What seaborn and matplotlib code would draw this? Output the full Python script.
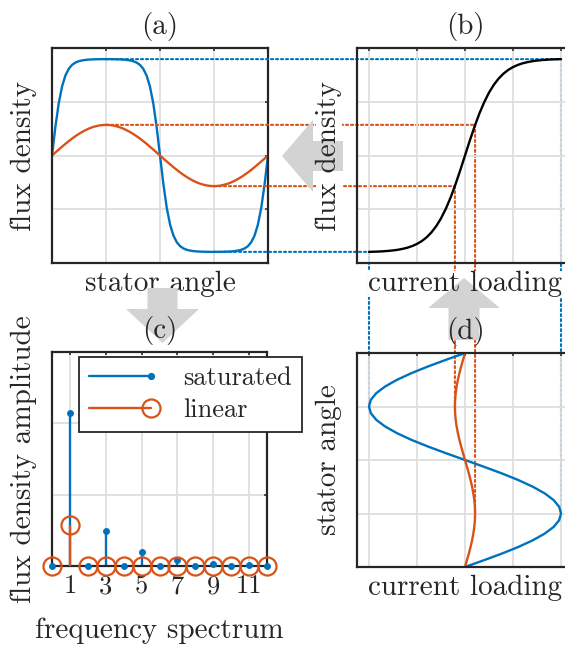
import numpy as np
import matplotlib
matplotlib.use("Agg")
import matplotlib.pyplot as plt
import seaborn as sns
from matplotlib.patches import ConnectionPatch, Polygon, Rectangle
from matplotlib.lines import Line2D
from matplotlib.legend_handler import HandlerLine2D

# ---------------- data ----------------
# (a) flux density over one pole pair, stator angle in degrees
stator_angle_deg = np.arange(0, 360.01, 5.625)          # 65 samples
flux_saturated = [0.0, 0.531, 0.973, 1.289, 1.493, 1.616, 1.689, 1.731, 1.756,
                  1.770, 1.779, 1.785, 1.788, 1.790, 1.792, 1.793, 1.793,
                  1.793, 1.792, 1.790, 1.788, 1.785, 1.779, 1.770, 1.756,
                  1.731, 1.689, 1.616, 1.493, 1.289, 0.973, 0.531, 0.0,
                  -0.531, -0.973, -1.289, -1.493, -1.616, -1.689, -1.731, -1.756,
                  -1.770, -1.779, -1.785, -1.788, -1.790, -1.792, -1.793, -1.793,
                  -1.793, -1.792, -1.790, -1.788, -1.785, -1.779, -1.770, -1.756,
                  -1.731, -1.689, -1.616, -1.493, -1.289, -0.973, -0.531, 0.0]
flux_linear = [0.0, 0.056, 0.111, 0.165, 0.218, 0.269, 0.317, 0.362, 0.403,
               0.441, 0.474, 0.503, 0.527, 0.545, 0.559, 0.567, 0.570,
               0.567, 0.559, 0.545, 0.527, 0.503, 0.474, 0.441, 0.403,
               0.362, 0.317, 0.269, 0.218, 0.165, 0.111, 0.056, 0.0,
               -0.056, -0.111, -0.165, -0.218, -0.269, -0.317, -0.362, -0.403,
               -0.441, -0.474, -0.503, -0.527, -0.545, -0.559, -0.567, -0.570,
               -0.567, -0.559, -0.545, -0.527, -0.503, -0.474, -0.441, -0.403,
               -0.362, -0.317, -0.269, -0.218, -0.165, -0.111, -0.056, 0.0]

# (b) magnetisation curve: flux density vs current loading
current_loading_b = np.arange(-1.0, 1.0001, 0.05)         # 41 samples
flux_curve_b = [-1.793, -1.790, -1.787, -1.782, -1.775, -1.766, -1.754, -1.737,
                -1.715, -1.685, -1.645, -1.592, -1.522, -1.431, -1.315, -1.170,
                -0.992, -0.782, -0.541, -0.277, 0.0,
                0.277, 0.541, 0.782, 0.992, 1.170, 1.315, 1.431, 1.522,
                1.592, 1.645, 1.685, 1.715, 1.737, 1.754, 1.766, 1.775,
                1.782, 1.787, 1.790, 1.793]

# (d) current loading over stator angle
stator_angle_d = np.arange(0, 360.01, 11.25)              # 33 samples
current_saturated = [0.0, 0.195, 0.383, 0.556, 0.707, 0.831, 0.924, 0.981, 1.0,
                     0.981, 0.924, 0.831, 0.707, 0.556, 0.383, 0.195, 0.0,
                     -0.195, -0.383, -0.556, -0.707, -0.831, -0.924, -0.981, -1.0,
                     -0.981, -0.924, -0.831, -0.707, -0.556, -0.383, -0.195, 0.0]
current_linear = [0.0, 0.020, 0.040, 0.058, 0.074, 0.087, 0.097, 0.103, 0.105,
                  0.103, 0.097, 0.087, 0.074, 0.058, 0.040, 0.020, 0.0,
                  -0.020, -0.040, -0.058, -0.074, -0.087, -0.097, -0.103, -0.105,
                  -0.103, -0.097, -0.087, -0.074, -0.058, -0.040, -0.020, 0.0]

# (c) harmonic spectrum
harmonic = list(range(13))
amp_saturated = [0, 2.14, 0, 0.49, 0, 0.19, 0, 0.08, 0, 0.035, 0, 0.015, 0]
amp_linear = [0, 0.57, 0, 0, 0, 0, 0, 0, 0, 0, 0, 0, 0]
freq_ticks = [1, 3, 5, 7, 9, 11]

legend_labels = ["saturated", "linear"]
panel_titles = ["(a)", "(b)", "(c)", "(d)"]
label_flux = "flux density"
label_angle = "stator angle"
label_current = "current loading"
label_amp = "flux density amplitude"
label_freq = "frequency spectrum"

# ---------------- style ----------------
BLUE = "#0072BD"
ORANGE = "#D95319"
AXC = "#262626"
GRID = "#dedede"
ARROW = "#d3d3d3"
LABEL_FS = 21
TICK_FS = 19
LEG_FS = 19
LW = 1.7
DOT = (0, (1, 1.4))

sns.set_style("white")
plt.rcParams["font.family"] = ["cmr10", "DejaVu Serif"]
plt.rcParams["mathtext.fontset"] = "cm"
plt.rcParams["axes.formatter.use_mathtext"] = True
plt.rcParams["axes.unicode_minus"] = False

W, H = 565, 648
fig = plt.figure(figsize=(W / 100, H / 100), dpi=100)
fig.patch.set_facecolor("white")


def px_rect(l, t, r, b):
    return [l / W, 1 - b / H, (r - l) / W, (b - t) / H]


ax_a = fig.add_axes(px_rect(52, 48, 268, 263), zorder=0)
ax_b = fig.add_axes(px_rect(357, 48, 573, 263), zorder=2)
ax_c = fig.add_axes(px_rect(52, 352, 267, 566), zorder=2)
ax_d = fig.add_axes(px_rect(357, 353, 573, 567), zorder=2)

for ax in (ax_b, ax_c, ax_d):
    ax.set_facecolor("none")

# ---------------- (a) ----------------
sns.lineplot(x=stator_angle_deg, y=flux_saturated, ax=ax_a, color=BLUE, lw=LW,
             sort=False, estimator=None, legend=False)
sns.lineplot(x=stator_angle_deg, y=flux_linear, ax=ax_a, color=ORANGE, lw=LW,
             sort=False, estimator=None, legend=False)
ax_a.set_xlim(0, 360)
ax_a.set_ylim(-2, 2)
ax_a.set_xticks([0, 90, 180, 270, 360])
ax_a.set_yticks([-2, -1, 0, 1, 2])

# ---------------- (b) ----------------
sns.lineplot(x=current_loading_b, y=flux_curve_b, ax=ax_b, color="black", lw=LW,
             sort=False, estimator=None, legend=False)
ax_b.set_xlim(-1.125, 1.125)
ax_b.set_ylim(-2, 2)
ax_b.set_xticks([-1, -0.5, 0, 0.5, 1])
ax_b.set_yticks([-2, -1, 0, 1, 2])

# ---------------- (d) ----------------
sns.lineplot(x=current_saturated, y=stator_angle_d, ax=ax_d, color=BLUE, lw=LW,
             sort=False, estimator=None, legend=False)
sns.lineplot(x=current_linear, y=stator_angle_d, ax=ax_d, color=ORANGE, lw=LW,
             sort=False, estimator=None, legend=False)
ax_d.set_xlim(-1.125, 1.125)
ax_d.set_ylim(0, 360)
ax_d.set_xticks([-1, -0.5, 0, 0.5, 1])
ax_d.set_yticks([0, 90, 180, 270, 360])

# ---------------- (c) ----------------
ax_c.vlines(harmonic, 0, amp_saturated, colors=BLUE, lw=LW, zorder=2)
sns.lineplot(x=harmonic, y=amp_saturated, ax=ax_c, color=BLUE, marker="o", ms=4.2,
             mec=BLUE, mfc=BLUE, linestyle="none", sort=False, estimator=None,
             legend=False, clip_on=False, zorder=3)
ax_c.vlines(harmonic, 0, amp_linear, colors=ORANGE, lw=LW, zorder=3.1)
sns.lineplot(x=harmonic, y=amp_linear, ax=ax_c, color=ORANGE, marker="o", ms=13,
             mec=ORANGE, mfc="none", mew=1.6, linestyle="none", sort=False,
             estimator=None, legend=False, clip_on=False, zorder=3.2)
ax_c.set_xlim(0, 12)
ax_c.set_ylim(0, 3)
ax_c.set_xticks(freq_ticks)
ax_c.set_xticklabels([str(t) for t in freq_ticks])
ax_c.set_yticks([0, 1, 2, 3])


def style(ax, show_x=False):
    for s in ax.spines.values():
        s.set_color(AXC)
        s.set_linewidth(1.6)
        s.set_zorder(2.6)
    ax.tick_params(direction="in", length=2.5, width=1.1, color=AXC,
                   top=True, right=True, labelsize=TICK_FS, labelcolor=AXC,
                   labelbottom=show_x, labelleft=False, pad=6.3)
    ax.grid(True, color=GRID, lw=1.3)
    ax.set_axisbelow(True)


style(ax_a)
style(ax_b)
style(ax_c, show_x=True)
style(ax_d)


class EndMarkerHandler(HandlerLine2D):
    def create_artists(self, legend, orig_handle, xdescent, ydescent, width,
                       height, fontsize, trans):
        arts = super().create_artists(legend, orig_handle, xdescent, ydescent,
                                      width, height, fontsize, trans)
        for a in arts:
            if isinstance(a, Line2D) and len(a.get_xdata()) == 3:
                a.set_markevery([2])
        return arts


h_sat = Line2D([], [], color=BLUE, lw=LW, marker="o", ms=4.2, mfc=BLUE, mec=BLUE)
h_lin = Line2D([], [], color=ORANGE, lw=LW, marker="o", ms=13, mfc="none",
               mec=ORANGE, mew=1.6)
leg = ax_c.legend([h_sat, h_lin], legend_labels, loc="upper left",
                  bbox_to_anchor=(79 / W, 1 - 357 / H), bbox_transform=fig.transFigure,
                  borderaxespad=0, frameon=True, fancybox=False, edgecolor=AXC,
                  framealpha=1, fontsize=LEG_FS, handlelength=2.35,
                  handletextpad=1.25, labelspacing=0.32, borderpad=0.36,
                  numpoints=1, labelcolor=AXC,
                  handler_map={Line2D: EndMarkerHandler()})
leg.get_frame().set_linewidth(1.3)
leg.set_zorder(10)

# ---------------- labels & titles ----------------
for ax, t in zip((ax_a, ax_b, ax_c, ax_d), panel_titles):
    ax.set_title(t, fontsize=LABEL_FS, color=AXC, pad=10)

ax_a.set_xlabel(label_angle, fontsize=LABEL_FS, color=AXC, labelpad=5.5)
ax_a.set_ylabel(label_flux, fontsize=LABEL_FS, color=AXC, labelpad=10.5)
ax_b.set_xlabel(label_current, fontsize=LABEL_FS, color=AXC, labelpad=5.5)
ax_b.set_ylabel(label_flux, fontsize=LABEL_FS, color=AXC, labelpad=10.5)
ax_c.set_xlabel(label_freq, fontsize=LABEL_FS, color=AXC, labelpad=14)
ax_c.set_ylabel(label_amp, fontsize=LABEL_FS, color=AXC, labelpad=10.5)
ax_d.set_xlabel(label_current, fontsize=LABEL_FS, color=AXC, labelpad=5.5)
ax_d.set_ylabel(label_angle, fontsize=LABEL_FS, color=AXC, labelpad=10.5)
for ax in (ax_a, ax_b, ax_c, ax_d):
    ax.xaxis.label.set_visible(True)
    ax.yaxis.label.set_visible(True)

# ---------------- dotted guide lines ----------------
sat_peak = max(flux_saturated)
lin_peak = max(flux_linear)
j_sat = max(current_saturated)
j_lin = max(current_linear)
guides = [
    (BLUE, 90, sat_peak, j_sat),
    (BLUE, 270, -sat_peak, -j_sat),
    (ORANGE, 90, lin_peak, j_lin),
    (ORANGE, 270, -lin_peak, -j_lin),
]
for col, ang, bval, jval in guides:
    c1 = ConnectionPatch(xyA=(ang, bval), coordsA=ax_a.transData,
                         xyB=(jval, bval), coordsB=ax_b.transData,
                         color=col, lw=1.5, linestyle=DOT, clip_on=False, zorder=3)
    ax_a.add_artist(c1)
    c2 = ConnectionPatch(xyA=(jval, bval), coordsA=ax_b.transData,
                         xyB=(jval, ang), coordsB=ax_d.transData,
                         color=col, lw=1.5, linestyle=DOT, clip_on=False, zorder=3)
    ax_a.add_artist(c2)

# ---------------- white backing behind panel (b) labels ----------------
fig.canvas.draw()
renderer = fig.canvas.get_renderer()
for lab in (ax_b.yaxis.label, ax_b.xaxis.label):
    bb = lab.get_window_extent(renderer).transformed(fig.transFigure.inverted())
    fig.add_artist(Rectangle((bb.x0, bb.y0), bb.width, bb.height,
                             transform=fig.transFigure, facecolor="white",
                             edgecolor="none", zorder=1.55))

# ---------------- big gray arrows (pixel coordinates) ----------------


def arrow_poly(pts):
    return Polygon([(x / W, 1 - y / H) for x, y in pts], closed=True,
                   transform=fig.transFigure, facecolor=ARROW, edgecolor="none",
                   zorder=1.6)


# left arrow (b) -> (a)
cy = 156
fig.add_artist(arrow_poly([(282, cy), (313, cy - 36), (313, cy - 15), (343, cy - 15),
                           (343, cy + 15), (313, cy + 15), (313, cy + 36)]))
# down arrow (a) -> (c)
cx = 162.5
fig.add_artist(arrow_poly([(cx, 343), (cx - 36.5, 309), (cx - 15, 309), (cx - 15, 288),
                           (cx + 15, 288), (cx + 15, 309), (cx + 36.5, 309)]))
# up arrow (d) -> (b)
cx = 464
fig.add_artist(arrow_poly([(cx, 278), (cx - 36, 308), (cx - 15.5, 308), (cx - 15.5, 340),
                           (cx + 15.5, 340), (cx + 15.5, 308), (cx + 36, 308)]))

fig.savefig("out.png", dpi=100)
